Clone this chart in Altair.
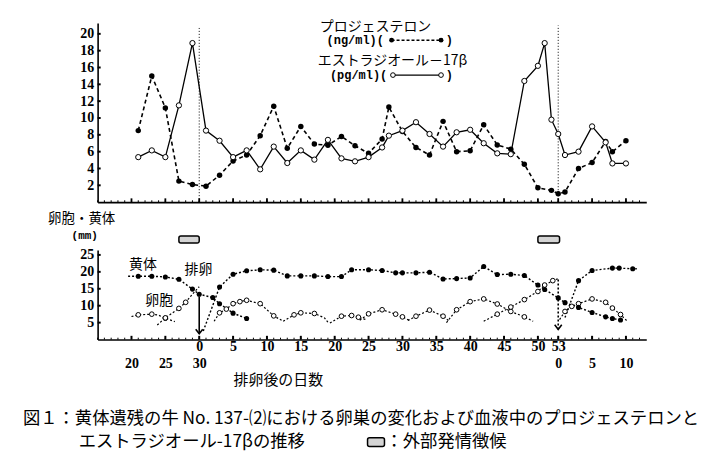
import altair as alt
import pandas as pd

# ---------------- top panel: blood hormones ----------------
prog_days = [-9, -7, -5, -3, -1, 1, 3, 5, 7, 9, 11, 13, 15, 17, 19, 21, 23, 25, 27, 28,
             30, 32, 34, 36, 38, 40, 42, 44, 46, 48, 50, 52, 53, 54, 56, 58, 60, 61, 63]
prog_vals = [8.5, 15.0, 11.2, 2.5, 2.1, 1.9, 3.2, 4.9, 5.6, 7.9, 11.4, 6.4, 9.0, 6.9, 6.75, 7.8, 6.7, 5.8, 7.5, 11.3,
             8.4, 6.5, 5.6, 9.6, 6.0, 6.1, 9.2, 6.8, 6.3, 4.5, 1.7, 1.4, 1.0, 1.2, 4.0, 4.7, 7.2, 6.0, 7.3]
e2_days = [-9, -7, -5, -3, -1, 1, 3, 5, 7, 9, 11, 13, 15, 17, 19, 21, 23, 25, 27, 28,
           30, 32, 34, 36, 38, 40, 42, 44, 46, 48, 50, 51, 52, 53, 54, 56, 58, 60, 61, 63]
e2_vals = [5.35, 6.15, 5.35, 11.5, 18.9, 8.5, 7.3, 5.35, 6.15, 3.9, 6.6, 4.65, 6.15, 5.05, 7.4, 5.2, 4.85, 5.35, 6.5, 7.9,
           8.5, 9.5, 8.1, 6.6, 8.3, 8.6, 7.0, 5.8, 5.7, 14.4, 16.2, 18.9, 9.8, 8.1, 5.6, 6.0, 9.0, 7.1, 4.6, 4.6]

# ---------------- bottom panel: corpus luteum and follicles (mm) ----------------
# (segment, days, values, measured-point flags)
cl_segments = [
    ("cl_a", [-10.5, -9, -7, -5, -3, -1, 0, 2, 3, 5, 7],
     [18.7, 18.7, 18.7, 18.5, 17.8, 14.9, 13.4, 12.4, 10.6, 7.8, 6.2],
     [0, 1, 1, 1, 1, 1, 1, 1, 1, 1, 1]),
    ("cl_b", [0.6, 3, 5, 7, 9, 11, 13, 15, 17, 19, 21, 22.5, 25, 27, 29, 30, 32, 34, 36, 38,
              40, 42, 44, 46, 48, 50, 51, 53, 54, 56, 58, 60, 61, 62.2],
     [2.5, 15.5, 19.3, 20.3, 20.6, 20.5, 18.8, 18.8, 18.8, 18.6, 18.6, 20.6, 20.6, 20.4, 19.7, 19.7, 19.7, 19.9, 17.9, 18.0,
      18.2, 21.6, 19.2, 19.3, 18.9, 16.1, 14.8, 12.3, 10.9, 9.5, 8.0, 6.7, 6.2, 5.8],
     [0] + [1] * 33),
    ("cl_c", [54, 56, 58, 61, 62, 64, 64.6],
     [6.5, 17.4, 20.4, 21.1, 21.1, 20.9, 20.9],
     [0, 1, 1, 1, 1, 1, 0]),
]
fol_segments = [
    ("f1", [-10, -9, -7, -6, -5, -3.6], [6.8, 7.3, 7.5, 7.2, 6.3, 5.3], [0, 1, 1, 0, 1, 0]),
    ("f2", [-6.2, -5, -3, -2, -1, 0], [4.3, 6.4, 9.2, 11.0, 13.4, 15.6], [0, 1, 1, 1, 0, 0]),
    ("f3", [2.2, 3, 4, 5, 6, 7, 9, 11, 12.4], [5.4, 7.9, 9.0, 10.6, 11.2, 11.6, 10.6, 7.0, 5.4], [0, 1, 1, 1, 1, 1, 1, 1, 0]),
    ("f4", [12.4, 14, 15, 17, 18.5, 19], [5.4, 7.3, 7.9, 7.7, 6.4, 5.1], [0, 1, 1, 1, 0, 0]),
    ("f5", [19.3, 21, 22.5, 23.5, 24.6], [4.9, 6.9, 7.1, 6.6, 5.9], [0, 1, 1, 1, 0]),
    ("f6", [23.7, 25, 27, 29, 30, 31], [5.7, 7.6, 8.8, 7.5, 6.7, 5.7], [0, 1, 1, 1, 1, 0]),
    ("f7", [30.8, 32, 34, 36, 36.8], [5.6, 6.9, 8.7, 6.9, 5.6], [0, 1, 1, 1, 0]),
    ("f8", [36.5, 38, 40, 42, 44, 46, 48, 49.3], [5.0, 8.8, 11.2, 12.0, 10.5, 8.3, 6.7, 5.4], [0, 1, 1, 1, 1, 1, 1, 0]),
    ("f9", [42, 44, 46, 48, 50, 51, 52.2, 53], [5.4, 7.5, 9.6, 11.8, 14.2, 16.1, 17.4, 18.0], [0, 1, 1, 1, 1, 1, 1, 0]),
    ("f10", [53.2, 54, 55, 56, 58, 60, 61, 62.2, 63.2], [5.9, 8.3, 9.8, 10.6, 12.0, 11.0, 9.3, 7.4, 5.4],
     [0, 1, 1, 1, 1, 1, 1, 1, 0]),
]

ovul_days = [0, 53]
ovul_top = [12.7, 18.0]
ovul_bottom = [1.7, 3.0]
estrus_start = [-3, 50]
estrus_end = [0, 53.2]

tick_days = [-10, -5, 0, 5, 10, 15, 20, 25, 30, 35, 40, 45, 50, 53, 58, 63]
tick_row1 = ["", "", "0", "5", "10", "15", "20", "25", "30", "35", "40", "45", "50", "53", "", ""]
tick_row2 = ["20", "25", "30", "", "", "", "", "", "", "", "", "", "", "0", "5", "10"]
top_y_ticks = [2, 4, 6, 8, 10, 12, 14, 16, 18, 20]
bot_y_ticks = [5, 10, 15, 20, 25]

legend_names = ["プロジェステロン", "エストラジオール－17β"]
legend_units = ["(ng/ml)(", "(pg/ml)("]
caption_1 = "図１：黄体遺残の牛 No. 137-⑵における卵巣の変化および血液中のプロジェステロンと"
caption_2 = "エストラジオール-17βの推移"
caption_3 = "：外部発情徴候"

# ---------------- styling ----------------
NUM_FONT = "Liberation Serif"
JP_FONT = "Noto Sans CJK JP"
MONO_FONT = "Liberation Mono"
BLACK = "black"

xs = alt.Scale(domain=[-15, 66], nice=False, zero=False)
yt = alt.Scale(domain=[0, 21.3], nice=False, zero=False)
yb = alt.Scale(domain=[0, 26.47], nice=False, zero=False)

ax_top_x = alt.Axis(labels=False, ticks=False, grid=False, title=None, domainColor=BLACK, domainWidth=1.6)
ax_top_y = alt.Axis(values=top_y_ticks, ticks=False, grid=False, title=None, labelPadding=4,
                    labelFont=NUM_FONT, labelFontSize=14, labelFontWeight="bold", labelColor=BLACK,
                    domainColor=BLACK, domainWidth=1.6)

days_js = "[" + ",".join(str(d) for d in tick_days) + "]"
r1_js = "[" + ",".join("'" + s + "'" for s in tick_row1) + "]"
r2_js = "[" + ",".join("'" + s + "'" for s in tick_row2) + "]"
label_expr = f"[{r1_js}[indexof({days_js}, datum.value)], {r2_js}[indexof({days_js}, datum.value)]]"

ax_bot_x = alt.Axis(values=tick_days, labelExpr=label_expr, ticks=False, grid=False,
                    labelOverlap=False, labelFlush=False, labelPadding=0, labelLineHeight=17.5,
                    labelBaseline="top", labelFont=NUM_FONT, labelFontSize=14, labelFontWeight="bold",
                    labelColor=BLACK, domainColor=BLACK, domainWidth=1.6,
                    title="排卵後の日数", titleFont=JP_FONT, titleFontSize=15, titleFontWeight="normal",
                    titleColor=BLACK, titleX=136, titleY=40, titleAlign="left", titleBaseline="middle")
ax_bot_y = alt.Axis(values=bot_y_ticks, ticks=False, grid=False, title=None, labelPadding=4,
                    labelFont=NUM_FONT, labelFontSize=14, labelFontWeight="bold", labelColor=BLACK,
                    domainColor=BLACK, domainWidth=1.6)


def tx():
    return alt.X("day:Q", scale=xs, axis=ax_top_x)


def ty():
    return alt.Y("v:Q", scale=yt, axis=ax_top_y)


def bx():
    return alt.X("day:Q", scale=xs, axis=ax_bot_x)


def by():
    return alt.Y("v:Q", scale=yb, axis=ax_bot_y)


# ---------------- top panel ----------------
df_p = pd.DataFrame({"day": prog_days, "v": prog_vals})
df_e = pd.DataFrame({"day": e2_days, "v": e2_vals})
df_vl = pd.DataFrame({"day": ovul_days, "v": [0, 0], "v2": [20.7, 21.0]})
df_tmaj = pd.DataFrame({"day": tick_days, "v": 0.0, "v2": 0.45})
df_tmin = pd.DataFrame({"day": list(range(-15, 66)), "v": 0.0, "v2": 0.22})
df_tyt = pd.DataFrame({"day": -15.0, "day2": -14.55, "v": top_y_ticks})

df_leg_name = pd.DataFrame({"day": [17.8, 17.5], "v": [20.8, 16.75], "t": legend_names})
df_leg_unit = pd.DataFrame({"day": [18.8, 19.3], "v": [19.25, 15.1], "t": legend_units})
df_leg_close = pd.DataFrame({"day": [36.4, 36.4], "v": [19.25, 15.1], "t": [")", ")"]})
df_leg_p = pd.DataFrame({"day": [28.4, 35.7], "v": [19.25, 19.25]})
df_leg_e = pd.DataFrame({"day": [28.6, 35.7], "v": [15.1, 15.1]})

top_layers = [
    alt.Chart(df_vl).mark_rule(color=BLACK, strokeWidth=1, strokeDash=[1, 2]).encode(x=tx(), y=ty(), y2="v2:Q"),
    alt.Chart(df_tmin).mark_rule(color=BLACK, strokeWidth=1).encode(x=tx(), y=ty(), y2="v2:Q"),
    alt.Chart(df_tmaj).mark_rule(color=BLACK, strokeWidth=1.8).encode(x=tx(), y=ty(), y2="v2:Q"),
    alt.Chart(df_tyt).mark_rule(color=BLACK, strokeWidth=2).encode(x=tx(), x2="day2:Q", y=ty()),
    alt.Chart(df_p).mark_line(color=BLACK, strokeWidth=1.6, strokeDash=[4, 3]).encode(x=tx(), y=ty()),
    alt.Chart(df_e).mark_line(color=BLACK, strokeWidth=1.3).encode(x=tx(), y=ty()),
    alt.Chart(df_p).mark_circle(color=BLACK, size=30, opacity=1).encode(x=tx(), y=ty()),
    alt.Chart(df_e).mark_circle(fill="white", stroke=BLACK, strokeWidth=1, size=28, opacity=1).encode(x=tx(), y=ty()),
    alt.Chart(df_leg_name).mark_text(font=JP_FONT, fontSize=14, align="left", baseline="middle", color=BLACK)
    .encode(x=tx(), y=ty(), text="t:N"),
    alt.Chart(df_leg_unit).mark_text(font=MONO_FONT, fontSize=12, fontWeight="bold", align="left",
                                     baseline="middle", color=BLACK).encode(x=tx(), y=ty(), text="t:N"),
    alt.Chart(df_leg_close).mark_text(font=MONO_FONT, fontSize=12, fontWeight="bold", align="left",
                                      baseline="middle", color=BLACK).encode(x=tx(), y=ty(), text="t:N"),
    alt.Chart(df_leg_p).mark_line(color=BLACK, strokeWidth=1.5, strokeDash=[3, 2]).encode(x=tx(), y=ty()),
    alt.Chart(df_leg_p).mark_circle(color=BLACK, size=24, opacity=1).encode(x=tx(), y=ty()),
    alt.Chart(df_leg_e).mark_line(color=BLACK, strokeWidth=1.3).encode(x=tx(), y=ty()),
    alt.Chart(df_leg_e).mark_circle(fill="white", stroke=BLACK, strokeWidth=1, size=22, opacity=1).encode(x=tx(), y=ty()),
]
top = alt.layer(*top_layers).properties(width=551, height=180)


# ---------------- bottom panel ----------------
def seg_frame(segments):
    rows = []
    for name, ds, vs, ms in segments:
        for d, v, m in zip(ds, vs, ms):
            rows.append({"seg": name, "day": d, "v": v, "m": m})
    return pd.DataFrame(rows)


df_cl = seg_frame(cl_segments)
df_fol = seg_frame(fol_segments)
df_arrow = pd.DataFrame({"day": ovul_days, "v": ovul_bottom, "v2": ovul_top})
df_estrus = pd.DataFrame({"day": estrus_start, "day2": estrus_end, "v": 28.5, "v2": 30.6})
df_bmaj = pd.DataFrame({"day": tick_days, "v": 0.0, "v2": 1.1})
df_bmin = pd.DataFrame({"day": list(range(-15, 66)), "v": 0.0, "v2": 0.55})
df_byt = pd.DataFrame({"day": -15.0, "day2": -14.55, "v": bot_y_ticks})
df_lab = pd.DataFrame({"day": [-8.3, -0.1, -5.9], "v": [22.1, 20.6, 11.3], "t": ["黄体", "排卵", "卵胞"]})
df_ytitle = pd.DataFrame({"day": [-17.35], "v": [35.7], "t": ["卵胞・黄体"]})
df_yunit = pd.DataFrame({"day": [-16.9], "v": [30.6], "t": ["(mm)"]})
df_cap = pd.DataFrame({"day": [-26.03, -17.8, 27.5], "v": [-23.5, -30.3, -30.3],
                       "t": [caption_1, caption_2, caption_3]})
df_cap_sym = pd.DataFrame({"day": [24.85], "day2": [27.35], "v": [-29.0], "v2": [-31.6]})

bot_layers = [
    alt.Chart(df_bmin).mark_rule(color=BLACK, strokeWidth=1).encode(x=bx(), y=by(), y2="v2:Q"),
    alt.Chart(df_bmaj).mark_rule(color=BLACK, strokeWidth=2).encode(x=bx(), y=by(), y2="v2:Q"),
    alt.Chart(df_byt).mark_rule(color=BLACK, strokeWidth=2).encode(x=bx(), x2="day2:Q", y=by()),
    alt.Chart(df_fol).mark_line(color=BLACK, strokeWidth=1.2, strokeDash=[2, 2]).encode(x=bx(), y=by(), detail="seg:N"),
    alt.Chart(df_cl).mark_line(color=BLACK, strokeWidth=1.4, strokeDash=[2, 2]).encode(x=bx(), y=by(), detail="seg:N"),
    alt.Chart(df_fol).transform_filter("datum.m == 1").mark_circle(fill="white", stroke=BLACK, strokeWidth=1,
                                                                   size=22, opacity=1).encode(x=bx(), y=by()),
    alt.Chart(df_cl).transform_filter("datum.m == 1").mark_circle(color=BLACK, size=26, opacity=1).encode(x=bx(), y=by()),
    alt.Chart(df_arrow.iloc[[0]]).mark_rule(color=BLACK, strokeWidth=1.6).encode(x=bx(), y=by(), y2="v2:Q"),
    alt.Chart(df_arrow.iloc[[1]]).mark_rule(color=BLACK, strokeWidth=1.6, strokeDash=[2, 2]).encode(x=bx(), y=by(), y2="v2:Q"),
    alt.Chart(df_arrow).mark_point(shape="M-1,-1.3L0,0L1,-1.3", filled=False, color=BLACK, strokeWidth=1.6,
                                   size=50, opacity=1).encode(x=bx(), y=by()),
    alt.Chart(df_estrus).mark_rect(fill="#d4d4d4", stroke=BLACK, strokeWidth=1.5, cornerRadius=2)
    .encode(x=bx(), x2="day2:Q", y=by(), y2="v2:Q"),
    alt.Chart(df_lab).mark_text(font=JP_FONT, fontSize=14, align="center", baseline="middle", color=BLACK)
    .encode(x=bx(), y=by(), text="t:N"),
    alt.Chart(df_ytitle).mark_text(font=JP_FONT, fontSize=13.5, align="center", baseline="middle", color=BLACK)
    .encode(x=bx(), y=by(), text="t:N"),
    alt.Chart(df_yunit).mark_text(font=MONO_FONT, fontSize=11, fontWeight="bold", align="center",
                                  baseline="middle", color=BLACK).encode(x=bx(), y=by(), text="t:N"),
    alt.Chart(df_cap).mark_text(font=JP_FONT, fontSize=17.4, align="left", baseline="middle", color=BLACK)
    .encode(x=bx(), y=by(), text="t:N"),
    alt.Chart(df_cap_sym).mark_rect(fill="#d4d4d4", stroke=BLACK, strokeWidth=1.5, cornerRadius=2)
    .encode(x=bx(), x2="day2:Q", y=by(), y2="v2:Q"),
]
bottom = alt.layer(*bot_layers).properties(width=551, height=90)

chart = (
    alt.vconcat(top, bottom, spacing=48, bounds="flush")
    .resolve_scale(x="independent", y="independent")
    .properties(padding={"left": 14, "top": 11, "right": 10, "bottom": 10}, background="white")
    .configure_view(strokeWidth=0)
)

chart.save("out.html", embed_options={"renderer": "svg", "actions": False})
